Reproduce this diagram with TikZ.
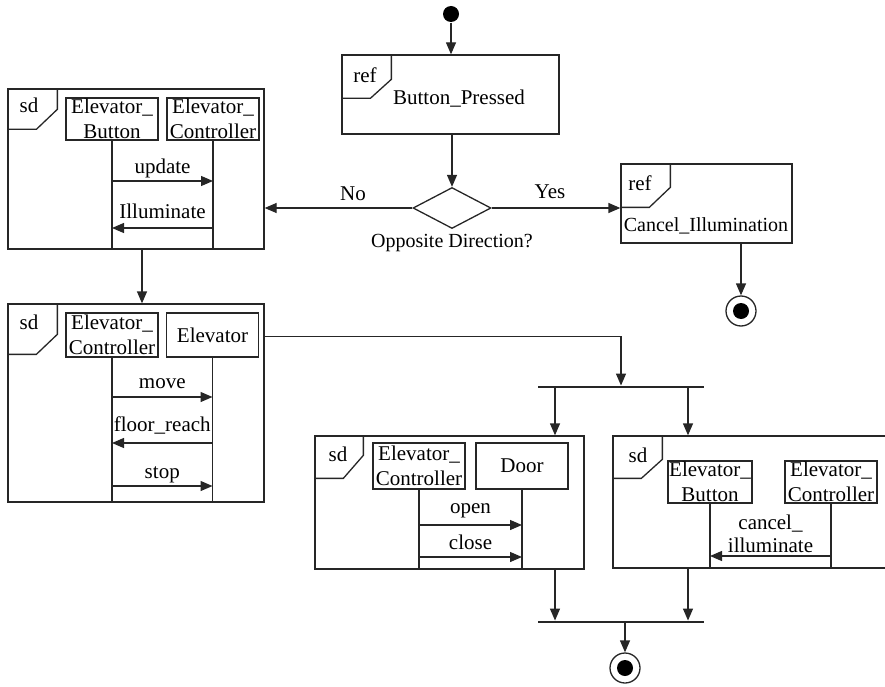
\documentclass[tikz,border=0pt]{standalone}
\usepackage{fontspec}
\setmainfont{Liberation Serif}
\usetikzlibrary{shapes.geometric,arrows.meta}

\begin{document}
\begin{tikzpicture}[x=1pt,y=-1pt,line width=1.3pt,
  font=\fontsize{21}{25}\selectfont,
  frame/.style={draw=black!85, inner sep=0pt},
  lifebox/.style={draw=black!85, align=center, minimum width=92pt, minimum height=44pt, inner sep=1pt},
  flow/.style={draw=black!85, -{Triangle[length=12pt,width=10pt]}},
  lbl/.style={above, inner sep=2pt},
  bar/.style={fill=black!85, minimum width=166pt, minimum height=1.6pt, inner sep=0pt},
  start/.style={circle, fill=black, minimum size=16pt, inner sep=0pt},
  final/.style={circle, draw=black!85, minimum size=30pt, inner sep=0pt,
    path picture={\fill[black] (path picture bounding box.center) circle (8pt);}},
  decision/.style={diamond, draw=black!85, minimum width=78pt, minimum height=41pt, inner sep=0pt}]

  \useasboundingbox (0,0) rectangle (885,687);

  \node[start](init) at (451,14) {};
  \node[frame, minimum width=217pt, minimum height=79pt](refA) at (450.5,94.5) {};
  \draw[black!85] (refA.north west) ++(50,0) -- ++(0,25) -- ++(-21,19) -- ++(-29,0);
  \node(refAtag) at (365,75) {ref};
  \node(refAname) at (459,99) {Button\_Pressed};

  \node[decision](dec) at (452,208) {};
  \node[font=\fontsize{20}{24}\selectfont](decq) at (452,243) {Opposite Direction?};
  \node(no) at (353,194) {No};
  \node(yes) at (550,192) {Yes};

  \node[frame, minimum width=171pt, minimum height=79pt](refB) at (706.5,203.5) {};
  \draw[black!85] (refB.north west) ++(50,0) -- ++(0,24) -- ++(-21,20) -- ++(-29,0);
  \node(refBtag) at (640,183) {ref};
  \node[font=\fontsize{20}{24}\selectfont](refBname) at (706,226) {Cancel\_Illumination};
  \node[final](endA) at (741,311) {};

  \node[frame, minimum width=256pt, minimum height=160pt](sdA) at (136,169) {};
  \draw[black!85] (sdA.north west) ++(50,0) -- ++(0,21) -- ++(-21,20) -- ++(-29,0);
  \node(sdAtag) at (29,105) {sd};
  \node[lifebox, minimum height=42pt](bA1) at (112,119) {Elevator\_\\Button};
  \node[lifebox, minimum height=42pt](bA2) at (213,119) {Elevator\_\\Controller};
  \draw[black!85] (bA1.south) -- (bA1.south |- sdA.south);
  \draw[black!85] (bA2.south) -- (bA2.south |- sdA.south);
  \draw[flow] (bA1.south |- 0,181) -- node[lbl](mUpdate){update} (bA2.south |- 0,181);
  \draw[flow] (bA2.south |- 0,228) -- node[lbl, yshift=7pt](mIllum){Illuminate} (bA1.south |- 0,228);

  \draw[flow] (init) -- (init |- refA.north);
  \draw[flow] (refA.south -| dec) -- (dec.north);
  \draw[flow] (dec.west) -- (dec.west -| sdA.east);
  \draw[flow] (dec.east) -- (dec.east -| refB.west);
  \draw[flow] (refB.south -| endA) -- (endA);

  \node[frame, minimum width=256pt, minimum height=198pt](sdB) at (136,403) {};
  \draw[black!85] (sdB.north west) ++(50,0) -- ++(0,31) -- ++(-21,20) -- ++(-29,0);
  \node(sdBtag) at (29,322) {sd};
  \node[lifebox](bB1) at (112,335) {Elevator\_\\Controller};
  \node[lifebox](bB2) at (212.5,335) {Elevator};
  \draw[black!85] (bB1.south) -- (bB1.south |- sdB.south);
  \draw[black!85] (bB2.south) -- (bB2.south |- sdB.south);
  \draw[flow] (bB1.south |- 0,397) -- node[lbl, yshift=6pt](mMove){move} (bB2.south |- 0,397);
  \draw[flow] (bB2.south |- 0,443) -- node[lbl, yshift=6pt](mFloor){floor\_reach} (bB1.south |- 0,443);
  \draw[flow] (bB1.south |- 0,486) -- node[lbl](mStop){stop} (bB2.south |- 0,486);

  \draw[flow] ([xshift=6pt]sdA.south) -- ([xshift=6pt]sdB.north);

  \node[bar](forkA) at (621,387) {};
  \draw[flow] ([yshift=-33pt]sdB.north east) -| (forkA.north);

  \node[frame, minimum width=269pt, minimum height=133pt](sdC) at (449.5,502.5) {};
  \draw[black!85] (sdC.north west) ++(49,0) -- ++(0,20) -- ++(-20,23) -- ++(-29,0);
  \node(sdCtag) at (338,454) {sd};
  \node[lifebox, minimum height=46pt](bC1) at (419,466) {Elevator\_\\Controller};
  \node[lifebox, minimum height=46pt](bC2) at (522,466) {Door};
  \draw[black!85] (bC1.south) -- (bC1.south |- sdC.south);
  \draw[black!85] (bC2.south) -- (bC2.south |- sdC.south);
  \draw[flow] (bC1.south |- 0,525) -- node[lbl, yshift=4pt](mOpen){open} (bC2.south |- 0,525);
  \draw[flow] (bC1.south |- 0,557) -- node[lbl, yshift=5pt](mClose){close} (bC2.south |- 0,557);

  \node[frame, minimum width=277pt, minimum height=132pt](sdD) at (751.5,502) {};
  \draw[black!85] (sdD.north west) ++(50,0) -- ++(0,24) -- ++(-21,19) -- ++(-29,0);
  \node(sdDtag) at (638,455) {sd};
  \node[lifebox, minimum width=84pt, minimum height=42pt](bD1) at (710,482) {Elevator\_\\Button};
  \node[lifebox, minimum height=42pt](bD2) at (831,482) {Elevator\_\\Controller};
  \draw[black!85] (bD1.south) -- (bD1.south |- sdD.south);
  \draw[black!85] (bD2.south) -- (bD2.south |- sdD.south);
  \draw[flow] (bD2.south |- 0,556) -- node[lbl, yshift=1pt, align=center, font=\fontsize{21}{23}\selectfont](mCancel){cancel\_\\illuminate} (bD1.south |- 0,556);

  \draw[flow] (forkA.south -| 555,0) -- (sdC.north -| 555,0);
  \draw[flow] (forkA.south -| 688,0) -- (sdD.north -| 688,0);

  \node[bar](joinA) at (621,622) {};
  \node[final](endB) at (625,668) {};
  \draw[flow] (sdC.south -| 555,0) -- (joinA.north -| 555,0);
  \draw[flow] (sdD.south -| 688,0) -- (joinA.north -| 688,0);
  \draw[flow] (joinA.south -| endB) -- (endB);

  %\draw (0,0) rectangle (885,687);
\end{tikzpicture}
\end{document}
